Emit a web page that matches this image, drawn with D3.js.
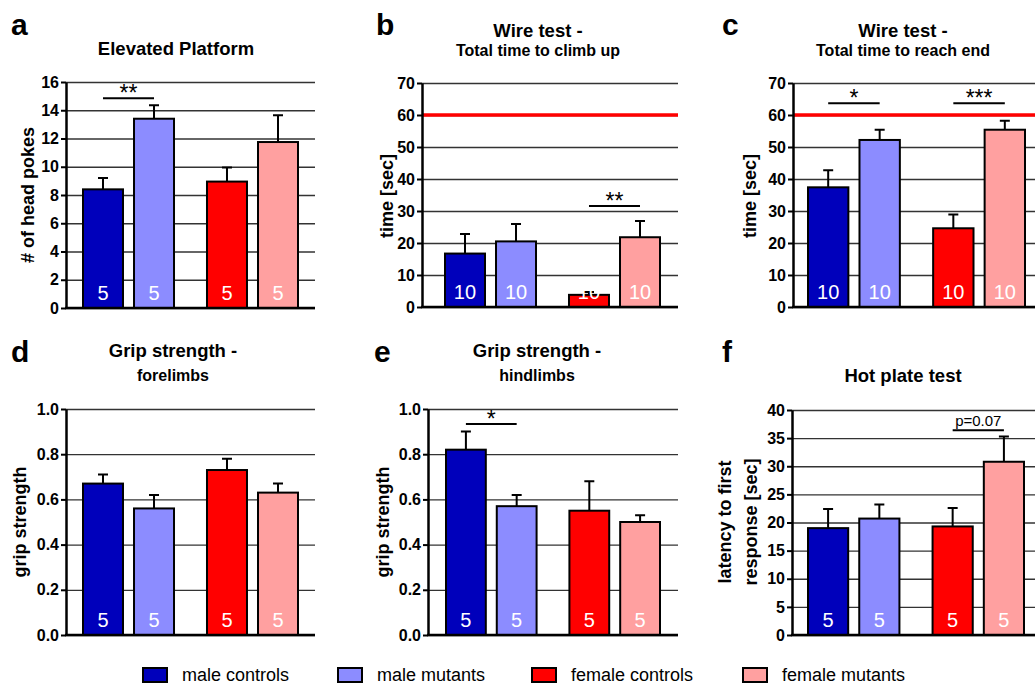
<!DOCTYPE html>
<html>
<head>
<meta charset="utf-8">
<script src="https://cdn.jsdelivr.net/npm/d3@7"></script>
<style>
  body { margin: 0; background: #fff; }
  svg { display: block; font-family: 'Liberation Sans', Arial, sans-serif; }
  .grid line { stroke: #333; stroke-width: 1.3; }
  .grid .domain { display: none; }
  .y-axis .domain { stroke: #000; stroke-width: 2.5; }
  .y-axis line { stroke: #000; stroke-width: 2; }
  .y-axis text { font-size: 16px; font-weight: bold; fill: #000; }
</style>
</head>
<body>
<div id="chart"></div>
<script>
const groups = ['male controls', 'male mutants', 'female controls', 'female mutants']
const colors = ['#0000bb', '#8c8cff', '#ff0000', '#ffa0a0']

// means and SEM
const platformMean = [8.4, 13.4, 8.95, 11.75]
const platformErr = [0.8, 0.95, 1.0, 1.9]
const platformN = [5, 5, 5, 5]
const platformTicks = [0, 2, 4, 6, 8, 10, 12, 14, 16]

const climbMean = [16.7, 20.5, 3.8, 21.8]
const climbErr = [6.1, 5.4, 0.9, 5.1]
const climbN = [10, 10, 10, 10]
const climbTicks = [0, 10, 20, 30, 40, 50, 60, 70]

const reachMean = [37.4, 52.2, 24.6, 55.4]
const reachErr = [5.3, 3.2, 4.3, 2.8]
const reachN = [10, 10, 10, 10]
const reachTicks = [0, 10, 20, 30, 40, 50, 60, 70]

const foreMean = [0.67, 0.56, 0.73, 0.63]
const foreErr = [0.04, 0.06, 0.05, 0.04]
const foreN = [5, 5, 5, 5]
const foreTicks = [0, 0.2, 0.4, 0.6, 0.8, 1.0]

const hindMean = [0.82, 0.57, 0.55, 0.50]
const hindErr = [0.08, 0.05, 0.13, 0.03]
const hindN = [5, 5, 5, 5]
const hindTicks = [0, 0.2, 0.4, 0.6, 0.8, 1.0]

const hotMean = [19.0, 20.7, 19.3, 30.8]
const hotErr = [3.4, 2.5, 3.3, 4.5]
const hotN = [5, 5, 5, 5]
const hotTicks = [0, 5, 10, 15, 20, 25, 30, 35, 40]

// [from bar, to bar, y value, label]
const platformSig = [[0, 1, 14.85, '**']]
const climbSig = [[2, 3, 31.6, '**']]
const reachSig = [[0, 1, 63.7, '*'], [2, 3, 63.7, '***']]
const hindSig = [[0, 1, 0.934, '*']]
const hotSig = [[2, 3, 36.4, 'p=0.07']]

const svg = d3
  .select('#chart')
  .append('svg')
  .attr('width', 1035)
  .attr('height', 684)

svg.append('rect').attr('width', 1035).attr('height', 684).attr('fill', '#fff')

const panels = [
  {
    letter: 'a', lx: 11, ly: 35,
    title: ['Elevated Platform'], tx: 176, ty: [55],
    ylabel: ['# of head pokes'], ylx: [34], yly: 195,
    axisX: 66, barStart: 83, barEnd: 298, gridEnd: 315, top: 82, bottom: 308,
    max: 16, ticks: platformTicks, fmt: d3.format('d'),
    mean: platformMean, err: platformErr, n: platformN, sig: platformSig
  },
  {
    letter: 'b', lx: 376, ly: 35,
    title: ['Wire test -', 'Total time to climb up'], tx: 538, ty: [37, 56],
    ylabel: ['time [sec]'], ylx: [393], yly: 196,
    axisX: 422, barStart: 445, barEnd: 660, gridEnd: 678, top: 83, bottom: 307,
    max: 70, ticks: climbTicks, fmt: d3.format('d'), redLine: 60,
    mean: climbMean, err: climbErr, n: climbN, sig: climbSig
  },
  {
    letter: 'c', lx: 722, ly: 35,
    title: ['Wire test -', 'Total time to reach end'], tx: 903, ty: [37, 56],
    ylabel: ['time [sec]'], ylx: [756], yly: 196,
    axisX: 793, barStart: 808, barEnd: 1025, gridEnd: 1050, top: 83, bottom: 307,
    max: 70, ticks: reachTicks, fmt: d3.format('d'), redLine: 60,
    mean: reachMean, err: reachErr, n: reachN, sig: reachSig
  },
  {
    letter: 'd', lx: 11, ly: 362,
    title: ['Grip strength -', 'forelimbs'], tx: 173, ty: [357, 381],
    ylabel: ['grip strength'], ylx: [26], yly: 522,
    axisX: 66, barStart: 83, barEnd: 298, gridEnd: 315, top: 409, bottom: 635,
    max: 1, ticks: foreTicks, fmt: d3.format('.1f'),
    mean: foreMean, err: foreErr, n: foreN, sig: []
  },
  {
    letter: 'e', lx: 374, ly: 362,
    title: ['Grip strength -', 'hindlimbs'], tx: 537, ty: [357, 381],
    ylabel: ['grip strength'], ylx: [389], yly: 522,
    axisX: 428, barStart: 446, barEnd: 660, gridEnd: 678, top: 409, bottom: 635,
    max: 1, ticks: hindTicks, fmt: d3.format('.1f'),
    mean: hindMean, err: hindErr, n: hindN, sig: hindSig
  },
  {
    letter: 'f', lx: 722, ly: 362,
    title: ['Hot plate test'], tx: 903, ty: [382],
    ylabel: ['latency to first', 'response [sec]'], ylx: [731, 757], yly: 522,
    axisX: 792, barStart: 808, barEnd: 1024, gridEnd: 1050, top: 410, bottom: 635,
    max: 40, ticks: hotTicks, fmt: d3.format('d'),
    mean: hotMean, err: hotErr, n: hotN, sig: hotSig
  }
]

panels.forEach(p => drawPanel(p))

function drawPanel(p) {
  const g = svg.append('g')

  const y = d3.scaleLinear().domain([0, p.max]).range([p.bottom, p.top])

  // pairs of bars: males then females
  const outer = d3.scaleBand().domain([0, 1]).range([p.barStart, p.barEnd]).paddingInner(0.266)
  const inner = d3.scaleBand().domain([0, 1]).range([0, outer.bandwidth()]).paddingInner(0.216)
  const barX = i => outer(Math.floor(i / 2)) + inner(i % 2)
  const bw = inner.bandwidth()

  // letter and titles
  g.append('text')
    .attr('x', p.lx).attr('y', p.ly)
    .attr('font-size', 30).attr('font-weight', 'bold')
    .text(p.letter)

  p.title.forEach((t, i) => {
    g.append('text')
      .attr('x', p.tx).attr('y', p.ty[i])
      .attr('text-anchor', 'middle')
      .attr('font-size', i === 0 ? 18.5 : 16).attr('font-weight', 'bold')
      .text(t)
  })

  p.ylabel.forEach((t, i) => {
    g.append('text')
      .attr('transform', 'translate(' + p.ylx[i] + ',' + p.yly + ') rotate(-90)')
      .attr('text-anchor', 'middle')
      .attr('font-size', 18).attr('font-weight', 'bold')
      .text(t)
  })

  // gridlines
  g.append('g')
    .attr('class', 'grid')
    .attr('transform', 'translate(' + p.axisX + ',0)')
    .call(d3.axisLeft(y).tickValues(p.ticks).tickSize(-(p.gridEnd - p.axisX)).tickFormat(''))

  if (p.redLine !== undefined) {
    g.append('line')
      .attr('x1', p.axisX).attr('x2', p.gridEnd)
      .attr('y1', y(p.redLine)).attr('y2', y(p.redLine))
      .attr('stroke', '#ff0000').attr('stroke-width', 3.5)
  }

  // error bars (upper only)
  const idx = p.mean.map((d, i) => i)
  g.selectAll('.err')
    .data(idx)
    .enter()
    .append('path')
    .attr('fill', 'none').attr('stroke', '#000').attr('stroke-width', 2)
    .attr('d', i => {
      const cx = barX(i) + bw / 2
      const yt = y(p.mean[i] + p.err[i])
      return 'M' + cx + ',' + y(p.mean[i]) + 'V' + yt + 'M' + (cx - 5) + ',' + yt + 'H' + (cx + 5)
    })

  // bars
  g.selectAll('.bar')
    .data(idx)
    .enter()
    .append('rect')
    .attr('x', i => barX(i))
    .attr('y', i => y(p.mean[i]))
    .attr('width', bw)
    .attr('height', i => y(0) - y(p.mean[i]))
    .attr('fill', i => colors[i])
    .attr('stroke', '#000')
    .attr('stroke-width', 2)

  // n labels
  g.selectAll('.n')
    .data(idx)
    .enter()
    .append('text')
    .attr('x', i => barX(i) + bw / 2)
    .attr('y', y(0) - 8)
    .attr('text-anchor', 'middle')
    .attr('font-size', 20)
    .attr('fill', '#fff')
    .text(i => p.n[i])

  // axes
  g.append('g')
    .attr('class', 'y-axis')
    .attr('transform', 'translate(' + p.axisX + ',0)')
    .call(d3.axisLeft(y).tickValues(p.ticks).tickSize(5).tickPadding(2).tickFormat(p.fmt).tickSizeOuter(0))

  g.append('line')
    .attr('x1', p.axisX - 1).attr('x2', p.gridEnd)
    .attr('y1', y(0)).attr('y2', y(0))
    .attr('stroke', '#000').attr('stroke-width', 2.5)

  // significance brackets
  p.sig.forEach(s => {
    const x1 = barX(s[0]) + bw / 2
    const x2 = barX(s[1]) + bw / 2
    const ys = y(s[2])
    g.append('line')
      .attr('x1', x1).attr('x2', x2).attr('y1', ys).attr('y2', ys)
      .attr('stroke', '#000').attr('stroke-width', 2)
    const isP = s[3].startsWith('p')
    g.append('text')
      .attr('x', (x1 + x2) / 2)
      .attr('y', isP ? ys - 4 : ys + 3)
      .attr('text-anchor', 'middle')
      .attr('font-size', isP ? 15 : 23)
      .text(s[3])
  })
}

// legend
const legendX = [143, 338, 532, 743]
const legend = svg.append('g')
groups.forEach((name, i) => {
  legend.append('rect')
    .attr('x', legendX[i]).attr('y', 668)
    .attr('width', 24).attr('height', 14)
    .attr('fill', colors[i]).attr('stroke', '#000').attr('stroke-width', 2)
  legend.append('text')
    .attr('x', legendX[i] + 39).attr('y', 681)
    .attr('font-size', 18)
    .text(name)
})
</script>
</body>
</html>
